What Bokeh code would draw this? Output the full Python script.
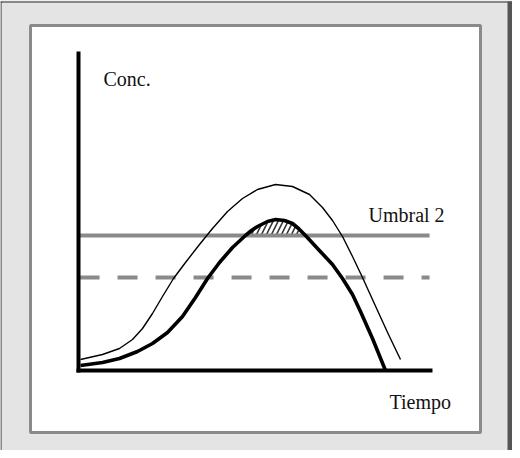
from bokeh.plotting import figure
from bokeh.models import Range1d, Label, BoxAnnotation
from bokeh.embed import file_html
from bokeh.resources import INLINE
import numpy as np

# ---- data (time units / concentration units) ----
thick_t = [0.057, 0.686, 1.171, 1.686, 2.114, 2.543, 2.971, 3.343, 3.686, 4.029, 4.400, 4.771,
           4.943, 5.114, 5.400, 5.629, 5.886, 6.114, 6.286, 6.486, 6.829, 7.257, 7.543, 7.829,
           8.057, 8.400, 8.771]
thick_c = [0.25, 0.40, 0.60, 0.95, 1.35, 1.90, 2.70, 3.65, 4.60, 5.40, 6.15, 6.75,
           7.00, 7.20, 7.45, 7.55, 7.50, 7.35, 7.10, 6.75, 6.10, 5.30, 4.60, 3.80,
           2.95, 1.60, 0.0]
thin_t = [0.057, 0.686, 1.171, 1.543, 1.829, 2.114, 2.400, 2.714, 3.057, 3.457, 3.829, 4.257,
          4.686, 5.114, 5.629, 6.114, 6.600, 6.971, 7.257, 7.543, 7.829, 8.114, 8.543, 8.857, 9.200]
thin_c = [0.55, 0.80, 1.10, 1.55, 2.10, 2.85, 3.70, 4.60, 5.40, 6.30, 7.10, 7.95,
          8.60, 9.05, 9.30, 9.20, 8.80, 8.15, 7.50, 6.70, 5.70, 4.65, 3.00, 1.80, 0.55]
umbral2 = 6.75
umbral1 = 4.65
t_end = 10.03
axis_t_end = 10.057
axis_c_end = 15.85
labels = ["Conc.", "Umbral 2", "Tiempo"]

# ---- layout constants (data coordinates of the decorative panels) ----
X0, X1 = -78 / 35, 434 / 35      # full canvas
Y0, Y1 = -4.0, 18.5
PANEL = dict(left=-48 / 35, right=402 / 35, bottom=-3.1, top=17.25)

W, H = 512, 450
p = figure(width=W, height=H, output_backend="svg", toolbar_location=None,
           x_axis_location=None, y_axis_location=None,
           min_border=0, min_border_left=0, min_border_right=0,
           min_border_top=0, min_border_bottom=0,
           x_range=Range1d(X0, X1), y_range=Range1d(Y0, Y1))
for g in p.grid:
    g.visible = False
p.border_fill_color = "#e4e4e4"
p.background_fill_color = "#e4e4e4"
p.outline_line_color = None

# outer frame edges
p.add_layout(BoxAnnotation(left=X0, right=X0 + 1 / 35, bottom=Y0, top=Y1 - 1 / 20,
                           fill_color="#2e2e2e", fill_alpha=1, line_alpha=0, level="underlay"))
p.add_layout(BoxAnnotation(left=X0, right=X1, bottom=Y1 - 2 / 20, top=Y1 - 1 / 20,
                           fill_color="#2e2e2e", fill_alpha=1, line_alpha=0, level="underlay"))
p.add_layout(BoxAnnotation(left=X1 - 5 / 35, right=X1, bottom=Y0, top=Y1 - 1 / 20,
                           fill_color="#555555", fill_alpha=1, line_alpha=0, level="underlay"))
# inner white panel
p.add_layout(BoxAnnotation(**PANEL, fill_color="white", fill_alpha=1,
                           line_color="#8a8a8a", line_alpha=1, line_width=3, level="underlay"))

# hatched area between thick curve and Umbral 2
tt = np.array(thick_t)
cc = np.array(thick_c)
mask = cc >= umbral2
p.varea(x=tt[mask], y1=np.full(mask.sum(), umbral2), y2=cc[mask], fill_alpha=0,
        hatch_pattern="/", hatch_color="#333333", hatch_scale=10, hatch_weight=1.6)

# thresholds
p.line([0, t_end], [umbral2, umbral2], line_color="#8a8a8a", line_width=4)
p.line([0.03, t_end], [umbral1, umbral1], line_color="#8a8a8a", line_width=4,
       line_dash="20 18")

# curves
p.line(thin_t, thin_c, line_color="black", line_width=1.4, line_join="round")
p.line(thick_t, thick_c, line_color="black", line_width=3.6, line_join="round")

# axes
p.segment(x0=[0, 0], y0=[0, 0], x1=[axis_t_end, 0], y1=[0, axis_c_end],
          line_color="black", line_width=4, line_cap="square")

# texts
font = "Liberation Serif"
p.add_layout(Label(x=0.714, y=14.6, text=labels[0], text_font=font, text_font_size="20px",
                   text_color="#111111", text_baseline="alphabetic"))
p.add_layout(Label(x=8.286, y=7.8, text=labels[1], text_font=font, text_font_size="20px",
                   text_color="#111111", text_baseline="alphabetic"))
p.add_layout(Label(x=8.886, y=-1.55, text=labels[2], text_font=font, text_font_size="20px",
                   text_color="#111111", text_baseline="alphabetic"))

open("out.html", "w").write(file_html(p, INLINE))
